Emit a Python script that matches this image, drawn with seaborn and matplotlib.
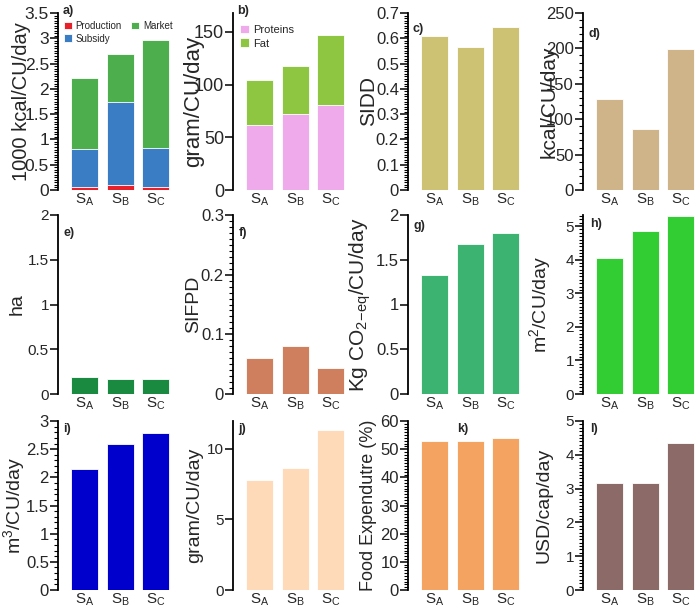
import numpy as np
import pandas as pd
import matplotlib
matplotlib.use('Agg')
import matplotlib.pyplot as plt
from matplotlib.ticker import MultipleLocator, FuncFormatter, NullLocator
import seaborn as sns

scenarios = ['SA', 'SB', 'SC']
tick_labels = [r'S$_\mathregular{A}$', r'S$_\mathregular{B}$', r'S$_\mathregular{C}$']

# a) energy by source (1000 kcal/CU/day)
production = [0.05, 0.09, 0.05]
subsidy = [0.77, 1.65, 0.78]
market = [1.40, 0.94, 2.13]
# b) macronutrients (gram/CU/day)
proteins = [61.5, 72.3, 80.5]
fat = [42.8, 45.0, 66.7]
# c) - l)
sidd = [0.611, 0.564, 0.644]
kcal = [128, 86, 199]
land_ha = [0.193, 0.168, 0.168]
sifpd = [0.060, 0.081, 0.044]
ghg = [1.33, 1.68, 1.80]
land_m2 = [4.06, 4.84, 5.30]
water = [2.14, 2.59, 2.78]
gram = [7.76, 8.64, 11.29]
food_exp = [52.9, 52.9, 54.1]
cost = [3.17, 3.17, 4.36]

sns.set_style('ticks')
plt.rcParams['font.family'] = ['Liberation Sans', 'DejaVu Sans']
plt.rcParams['mathtext.fontset'] = 'custom'
plt.rcParams['mathtext.rm'] = 'Liberation Sans'
plt.rcParams['mathtext.it'] = 'Liberation Sans:italic'

fig = plt.figure(figsize=(7, 6.09), dpi=100)
W, H = 700., 609.
lefts = [58, 233, 408, 583]
rows = [(13, 190), (215, 394), (421, 590)]


def make_ax(r, c):
    top, bot = rows[r]
    return fig.add_axes([lefts[c] / W, 1 - bot / H, 112 / W, (bot - top) / H])


def style(ax, ylabel, ylim, major, minor, lab_fs, tick_fs, lab_x, letter, let_xy):
    ax.set_xlim(-0.75, 2.4)
    ax.set_ylim(*ylim)
    for s in ['top', 'right', 'bottom']:
        ax.spines[s].set_visible(False)
    ax.spines['left'].set_linewidth(1.3)
    ax.spines['left'].set_color('black')
    ax.tick_params(axis='x', length=0, labelsize=11, pad=1)
    ax.set_xticks([0, 1, 2])
    ax.set_xticklabels(tick_labels)
    ax.set_xlabel('')
    ax.set_ylabel(ylabel, fontsize=lab_fs)
    ax.yaxis.set_label_coords(lab_x, 0.5)
    ax.text(let_xy[0], let_xy[1], letter, transform=ax.transAxes, fontsize=9,
            fontweight='bold', ha='left', va='center')
    # y ticks: major with labels, dense minor "ruler" ticks on some panels
    ax.yaxis.set_major_locator(MultipleLocator(major))
    ax.yaxis.set_major_formatter(FuncFormatter(lambda v, p: f'{v:g}'))
    ax.tick_params(axis='y', which='major', left=True, length=5.5, width=1.1,
                   color='black', labelsize=tick_fs, pad=1)
    if minor:
        ax.yaxis.set_minor_locator(MultipleLocator(minor))
        ax.tick_params(axis='y', which='minor', left=True, length=3, width=0.8,
                       color='black')
    else:
        ax.yaxis.set_minor_locator(NullLocator())


# a) stacked energy
ax = make_ax(0, 0)
tot = np.array(production) + np.array(subsidy) + np.array(market)
mid = np.array(production) + np.array(subsidy)
bar_kw = dict(width=0.75, saturation=1, edgecolor='white', linewidth=0.6, ax=ax)
sns.barplot(x=scenarios, y=tot, color='#4cae4c', label='Market', **bar_kw)
sns.barplot(x=scenarios, y=mid, color='#3b7dc4', label='Subsidy', **bar_kw)
sns.barplot(x=scenarios, y=production, color='#e8202a', label='Production', **bar_kw)
h, l = ax.get_legend_handles_labels()
order = [l.index('Production'), l.index('Subsidy'), l.index('Market')]
ax.legend([h[i] for i in order], [l[i] for i in order], ncol=2, frameon=False,
          fontsize=7, loc='upper left', bbox_to_anchor=(0.0, 0.99), handlelength=0.8,
          handleheight=0.8, handletextpad=0.4, columnspacing=1.0, labelspacing=0.3,
          borderaxespad=0.2)
style(ax, '1000 kcal/CU/day', (0, 3.5), 0.5, 0.05, 14.5, 12.5, -0.245, 'a)', (0.04, 1.01))

# b) stacked protein / fat
ax = make_ax(0, 1)
bar_kw['ax'] = ax
sns.barplot(x=scenarios, y=np.array(proteins) + np.array(fat), color='#8ec641', label='Fat', **bar_kw)
sns.barplot(x=scenarios, y=proteins, color='#eeaaea', label='Proteins', **bar_kw)
h, l = ax.get_legend_handles_labels()
ax.legend(h[::-1], l[::-1], frameon=False, fontsize=8, loc='upper left',
          bbox_to_anchor=(0.0, 0.97), handlelength=0.8, handleheight=0.8,
          handletextpad=0.4, labelspacing=0.3, borderaxespad=0.2)
style(ax, 'gram/CU/day', (0, 168), 50, None, 16, 13, -0.26, 'b)', (0.04, 1.01))

panels = [
    (0, 2, sidd, '#cdc274', 'SIDD', (0, 0.7), 0.1, 0.01, 15, 12, -0.27, 'c)', (0.04, 0.91)),
    (0, 3, kcal, '#cfb48a', 'kcal/CU/day', (0, 250), 50, 10, 15, 12, -0.22, 'd)', (0.05, 0.88)),
    (1, 0, land_ha, '#198a3f', 'ha', (0, 2), 0.5, None, 14, 11, -0.29, 'e)', (0.05, 0.90)),
    (1, 1, sifpd, '#cf7f5e', 'SIFPD', (0, 0.3), 0.1, 0.01, 14, 12, -0.28, 'f)', (0.05, 0.90)),
    (1, 2, ghg, '#3cb371', r'Kg CO$_\mathregular{2\!-\!eq}$/CU/day', (0, 2), 0.5, None, 15, 12, -0.31, 'g)', (0.05, 0.94)),
    (1, 3, land_m2, '#32cd32', r'm$^\mathregular{2}$/CU/day', (0, 5.33), 1, 0.1, 14, 11, -0.27, 'h)', (0.06, 0.95)),
    (2, 0, water, '#0000cd', r'm$^\mathregular{3}$/CU/day', (0, 3), 0.5, 0.1, 14, 12, -0.28, 'i)', (0.05, 0.95)),
    (2, 1, gram, '#ffdab9', 'gram/CU/day', (0, 11.95), 5, None, 14, 11, -0.27, 'j)', (0.05, 0.95)),
    (2, 2, food_exp, '#f4a460', 'Food Expendutre (%)', (0, 60), 10, 1, 13, 12, -0.28, 'k)', (0.44, 0.95)),
    (2, 3, cost, '#8b6a67', 'USD/cap/day', (0, 5), 1, 0.1, 14, 11, -0.27, 'l)', (0.06, 0.95)),
]

for r, c, vals, col, ylab, ylim, mj, mn, lfs, tfs, lx, let, lxy in panels:
    ax = make_ax(r, c)
    sns.barplot(x=scenarios, y=vals, color=col, width=0.75, saturation=1,
                edgecolor='white', linewidth=0.6, ax=ax)
    style(ax, ylab, ylim, mj, mn, lfs, tfs, lx, let, lxy)

fig.savefig('out.png', dpi=100)
